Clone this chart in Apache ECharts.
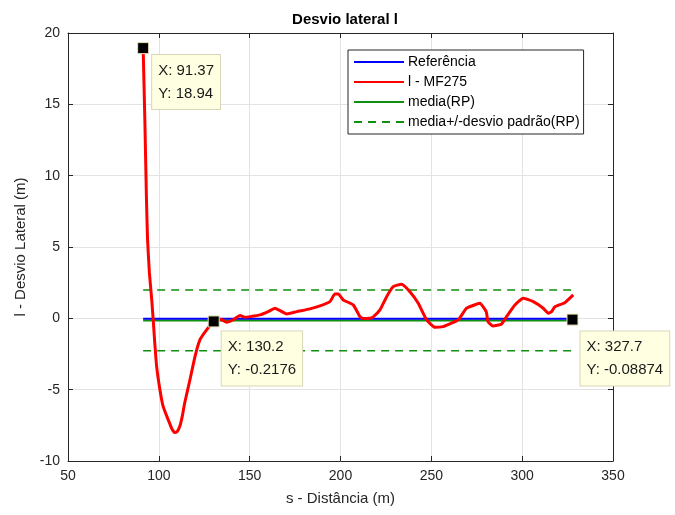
<!DOCTYPE html>
<html>
<head>
<meta charset="utf-8">
<script src="https://cdn.jsdelivr.net/npm/echarts@6/dist/echarts.min.js"></script>
<style>html,body{margin:0;padding:0;background:#fff;}#c{width:675px;height:515px;}</style>
</head>
<body>
<div id="c"></div>
<script>
// ---- data ----
const sRed = [91.37, 92.3, 93.2, 93.8, 94.8, 96.1, 96.9, 97.8, 98.8, 100.6, 102.4, 105.2, 107.2, 108.6, 110.0, 111.6, 113.0, 114.2, 117.1, 119.9, 122.6, 126.3, 130.2, 132.5, 134.6, 137.3, 141.0, 144.7, 147.4, 150.2, 155.7, 160.2, 163.9, 166.7, 170.4, 175.9, 183.2, 188.7, 194.2, 196.9, 198.8, 201.5, 207.0, 210.7, 212.5, 216.0, 218.0, 221.7, 225.4, 229.0, 233.6, 238.2, 242.8, 247.4, 252.0, 256.5, 260.2, 264.8, 269.4, 274.9, 276.7, 280.2, 281.2, 283.9, 288.7, 291.4, 296.0, 300.6, 306.1, 311.6, 314.3, 316.2, 318.0, 323.5, 328.1];
const lRed = [18.94, 13.9, 8.3, 5.5, 3.2, 1.29, -0.11, -1.8, -3.38, -5.0, -6.19, -7.12, -7.75, -8.0, -7.95, -7.55, -6.8, -5.95, -4.32, -2.68, -1.51, -0.81, -0.2176, -0.05, -0.1, -0.27, -0.1, 0.19, 0.08, 0.12, 0.24, 0.47, 0.71, 0.54, 0.31, 0.47, 0.66, 0.87, 1.17, 1.71, 1.71, 1.29, 0.94, 0.12, -0.02, 0.0, 0.1, 0.59, 1.52, 2.22, 2.39, 1.87, 1.06, -0.11, -0.63, -0.58, -0.39, -0.11, 0.71, 0.99, 1.06, 0.47, -0.23, -0.53, -0.39, 0.12, 0.94, 1.41, 1.17, 0.71, 0.36, 0.47, 0.82, 1.10, 1.64];
const sRef = [91.37, 327.7];
const lRef = [-0.03, -0.03];
const sMean = [91.37, 327.7];
const lMean = [-0.16, -0.16];
const lUpper = [1.99, 1.99];
const lLower = [-2.27, -2.27];
const tipX = [91.37, 130.2, 327.7];
const tipY = [18.94, -0.2176, -0.08874];
const tipText = [['91.37', '18.94'], ['130.2', '-0.2176'], ['327.7', '-0.08874']];
const xTicks = [50, 100, 150, 200, 250, 300, 350];
const yTicks = [-10, -5, 0, 5, 10, 15, 20];

const zip = (a, b) => a.map((v, i) => [v, b[i]]);
const FONT = 'Liberation Sans, Arial, sans-serif';
const INK = '#262626';

const tipOffsets = [[15, 13], [14, 16], [14, 18]];

const chart = echarts.init(document.getElementById('c'));
const axisCommon = {
  axisLine: { show: true, onZero: false, lineStyle: { color: INK, width: 1 } },
  axisTick: { show: true, inside: true, length: 5, lineStyle: { color: INK } },
};
chart.setOption({
  animation: false,
  backgroundColor: '#fff',
  title: {
    text: 'Desvio lateral l', left: 340, top: 7, textAlign: 'center',
    textStyle: { fontFamily: FONT, fontSize: 15, fontWeight: 'bold', color: '#000' }
  },
  grid: { left: 68, right: 62, top: 33, bottom: 54 },
  legend: {
    orient: 'vertical', left: 348, top: 50,
    itemWidth: 50, itemHeight: 14, itemGap: 6,
    padding: [5, 4, 5, 5],
    borderColor: INK, borderWidth: 1, backgroundColor: '#fff',
    itemStyle: { opacity: 0, borderWidth: 0 },
    textStyle: { fontFamily: FONT, fontSize: 14, color: '#000', padding: [0, 0, 0, -1] },
    data: ['Referência', 'l - MF275', 'media(RP)', 'media+/-desvio padrão(RP)']
  },
  xAxis: [
    Object.assign({
      type: 'value', min: xTicks[0], max: xTicks[xTicks.length - 1], interval: 50, position: 'bottom',
      name: 's - Distância (m)', nameLocation: 'middle', nameGap: 30,
      nameTextStyle: { fontFamily: FONT, fontSize: 15, color: INK },
      axisLabel: { fontFamily: FONT, fontSize: 14, color: INK, margin: 8 },
      splitLine: { show: true, lineStyle: { color: '#e3e3e3', width: 1 } }
    }, axisCommon),
    Object.assign({
      type: 'value', min: xTicks[0], max: xTicks[xTicks.length - 1], interval: 50, position: 'top',
      axisLabel: { show: false }, splitLine: { show: false }
    }, axisCommon)
  ],
  yAxis: [
    Object.assign({
      type: 'value', min: yTicks[0], max: yTicks[yTicks.length - 1], interval: 5, position: 'left',
      name: 'l - Desvio Lateral (m)', nameLocation: 'middle', nameGap: 40,
      nameTextStyle: { fontFamily: FONT, fontSize: 15, color: INK },
      axisLabel: { fontFamily: FONT, fontSize: 14, color: INK, margin: 8 },
      splitLine: { show: true, lineStyle: { color: '#e3e3e3', width: 1 } }
    }, axisCommon),
    Object.assign({
      type: 'value', min: yTicks[0], max: yTicks[yTicks.length - 1], interval: 5, position: 'right',
      axisLabel: { show: false }, splitLine: { show: false }
    }, axisCommon)
  ],
  series: [
    { name: 'media(RP)', type: 'line', symbol: 'none', data: zip(sMean, lMean),
      lineStyle: { color: '#0f8f0f', width: 2 }, itemStyle: { color: '#0f8f0f' }, z: 3 },
    { name: 'Referência', type: 'line', symbol: 'none', data: zip(sRef, lRef),
      lineStyle: { color: '#0000ff', width: 2 }, itemStyle: { color: '#0000ff' }, z: 4 },
    { name: 'media+/-desvio padrão(RP)', type: 'line', symbol: 'none', data: zip(sMean, lUpper),
      lineStyle: { color: '#0f8f0f', width: 1.5, type: [8, 6] }, itemStyle: { color: '#0f8f0f' }, z: 4 },
    { name: 'media+/-desvio padrão(RP)', type: 'line', symbol: 'none', data: zip(sMean, lLower),
      lineStyle: { color: '#0f8f0f', width: 1.5, type: [8, 6] }, itemStyle: { color: '#0f8f0f' }, z: 4 },
    { name: 'l - MF275', type: 'line', symbol: 'none', data: zip(sRed, lRed), smooth: 0.15,
      lineStyle: { color: '#ff0000', width: 3 }, itemStyle: { color: '#ff0000' }, z: 5 },
    { name: 'tips', type: 'scatter', symbol: 'rect', symbolSize: 11, z: 10,
      itemStyle: { color: '#000', opacity: 1, borderColor: '#e6e3b8', borderWidth: 1 },
      data: tipX.map((x, i) => ({
        value: [x, tipY[i]],
        label: {
          show: true, position: tipOffsets[i], align: 'left', verticalAlign: 'top',
          formatter: 'X: ' + tipText[i][0] + '\nY: ' + tipText[i][1],
          fontFamily: FONT, fontSize: 15, lineHeight: 23, color: '#1a1a1a',
          backgroundColor: '#ffffe1', borderColor: '#d8d6b8', borderWidth: 1,
          padding: [4, 6, 4, 6]
        }
      }))
    }
  ]
});
</script>
</body>
</html>
